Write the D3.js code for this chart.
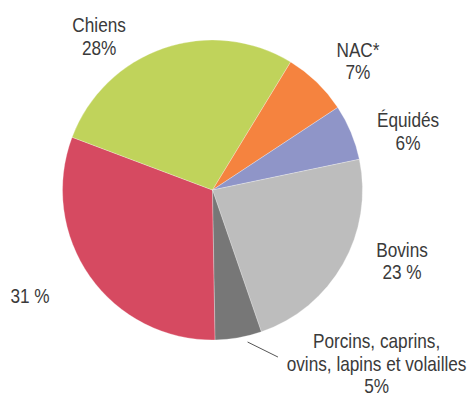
<!DOCTYPE html>
<html>
<head>
<meta charset="utf-8">
<script src="https://cdn.jsdelivr.net/npm/d3@7"></script>
<style>
  html, body { margin: 0; padding: 0; background: #ffffff; }
  svg { display: block; }
  text { font-family: "Liberation Sans", Arial, sans-serif; fill: #3a3a3a; }
</style>
</head>
<body>
<svg id="chart" width="473" height="397"></svg>
<script>
// Share of each group of animals (percent)
const categories = ["Chats", "Chiens", "NAC*", "Équidés", "Bovins", "Porcins, caprins, ovins, lapins et volailles"];
const shares = [31, 28, 7, 6, 23, 5];
const sliceColors = ["#d64a61", "#c0d35b", "#f5833f", "#8f95c8", "#bdbdbd", "#777777"];

// Text shown next to each slice, one entry per line
const labelLines = [
  ["31 %"],
  ["Chiens", "28%"],
  ["NAC*", "7%"],
  ["Équidés", "6%"],
  ["Bovins", "23 %"],
  ["Porcins, caprins,", "ovins, lapins et volailles", "5%"]
];

// Label anchors in polar form around the pie centre: [angle in degrees, radius]
const labelPolar = [[238.3, 214.5], [324.3, 194.3], [47.5, 197.3], [72.1, 205.5], [109.4, 200.9], [133.9, 227.7]];
// Leader line for the smallest slice: [angle, radius] of both ends
const leaderPolar = [[167, 156], [158.6, 179.4]];

const width = 473, height = 397;
const cx = 212.5, cy = 190, radius = 150;
const fontSize = 21, lineHeight = 22.7;
const narrow = 0.82;   // horizontal condensing of the label type
const startDeg = 179;

const svg = d3.select("#chart");
const g = svg.append("g").attr("transform", `translate(${cx},${cy})`);

const rows = categories.map((c, i) => ({ category: c, value: shares[i], color: sliceColors[i], lines: labelLines[i], pos: labelPolar[i] }));

const pie = d3.pie()
  .sort(null)
  .value(d => d.value)
  .startAngle(startDeg * Math.PI / 180)
  .endAngle(startDeg * Math.PI / 180 + 2 * Math.PI);

const arc = d3.arc().innerRadius(0).outerRadius(radius);
const arcs = pie(rows);

g.selectAll("path.slice")
  .data(arcs)
  .join("path")
  .attr("class", "slice")
  .attr("d", arc)
  .attr("fill", d => d.data.color)
  .attr("stroke", "#ffffff")
  .attr("stroke-opacity", 0.45)
  .attr("stroke-width", 0.6);

const rad = deg => deg * Math.PI / 180;

// leader line
const [p0, p1] = leaderPolar.map(([a, r]) => d3.pointRadial(rad(a), r));
g.append("line")
  .attr("x1", p0[0]).attr("y1", p0[1])
  .attr("x2", p1[0]).attr("y2", p1[1])
  .attr("stroke", "#555555")
  .attr("stroke-width", 1);

// labels
const labels = g.selectAll("text.label")
  .data(arcs)
  .join("text")
  .attr("class", "label")
  .attr("text-anchor", "middle")
  .attr("font-size", fontSize)
  .attr("transform", d => {
    const [x, y] = d3.pointRadial(rad(d.data.pos[0]), d.data.pos[1]);
    return `translate(${x},${y}) scale(${narrow},1)`;
  });

labels.selectAll("tspan")
  .data(d => d.data.lines)
  .join("tspan")
  .attr("x", 0)
  .attr("y", (t, i) => i * lineHeight)
  .text(t => t);
</script>
</body>
</html>
